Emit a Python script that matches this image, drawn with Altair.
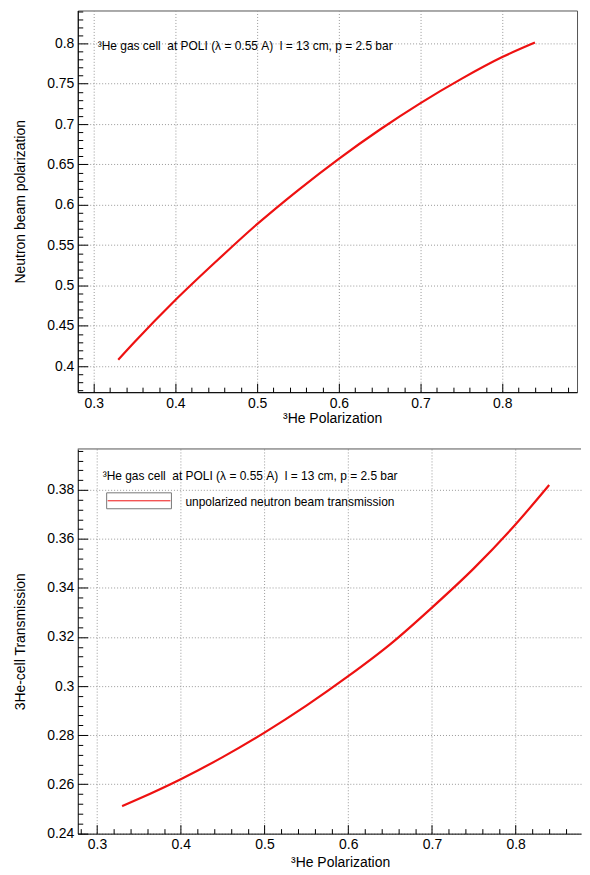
import altair as alt
import pandas as pd
import numpy as np

FONT = "Liberation Sans"

# ---- data ----
he_pol_top = [0.33, 0.35, 0.40, 0.45, 0.50, 0.55, 0.60, 0.65, 0.70, 0.75, 0.80, 0.84]
beam_pol = [0.408, 0.430, 0.482, 0.530, 0.576, 0.618, 0.657, 0.693, 0.726, 0.756, 0.783, 0.801]

he_pol_bot = [0.33, 0.35, 0.40, 0.45, 0.50, 0.55, 0.60, 0.65, 0.70, 0.75, 0.80, 0.84]
transmission = [0.251, 0.254, 0.262, 0.271, 0.281, 0.292, 0.304, 0.317, 0.332, 0.348, 0.366, 0.382]

x_major = [0.3, 0.4, 0.5, 0.6, 0.7, 0.8]
top_y_major = [0.4, 0.45, 0.5, 0.55, 0.6, 0.65, 0.7, 0.75, 0.8]
bot_y_major = [0.24, 0.26, 0.28, 0.3, 0.32, 0.34, 0.36, 0.38]

top_x_all = np.round(np.arange(0.30, 0.885, 0.02), 3).tolist()
top_y_all = np.round(np.arange(0.37, 0.8405, 0.01), 3).tolist()
bot_x_all = np.round(np.arange(0.28, 0.875, 0.02), 3).tolist()
bot_y_all = np.round(np.arange(0.24, 0.3965, 0.004), 3).tolist()

info_text = "\u00b3He gas cell\u00a0\u00a0at POLI (\u03bb = 0.55 A)\u00a0\u00a0l = 13 cm, p = 2.5 bar"
legend_text = "unpolarized neutron beam transmission"
x_title = "\u00b3He Polarization"
top_y_title = "Neutron beam polarization"
bot_y_title = "3He-cell Transmission"


def major_test(mult):
    return f"abs(datum.value*{mult} - round(datum.value*{mult})) < 1e-6"


def panel(xs, ys, xdom, ydom, W, H, x_all, y_major, y_all, y_mult, y_title,
          xtitle_x, xtitle_y, extra_layers, view_stroke=True):
    df = pd.DataFrame({"x": xs, "y": ys})
    base = alt.Chart(df)
    xs_ = alt.Scale(domain=xdom, nice=False, zero=False)
    ys_ = alt.Scale(domain=ydom, nice=False, zero=False)
    grid_kw = dict(grid=True, gridColor="#999999", gridDash=[1, 2], gridWidth=1)
    line = base.mark_line(color="#ee1111", strokeWidth=2.2, interpolate="monotone").encode(
        x=alt.X("x:Q", scale=xs_, axis=alt.Axis(
            values=x_major, ticks=False, format="~g", domainColor="black",
            labelFont=FONT, labelFontSize=14, labelColor="black", labelPadding=4,
            title=x_title, titleFont=FONT, titleFontSize=14, titleFontWeight="normal",
            titleColor="black", titleX=xtitle_x, titleY=xtitle_y, titleAlign="right",
            titleBaseline="top", **grid_kw)),
        y=alt.Y("y:Q", scale=ys_, axis=alt.Axis(
            values=y_major, ticks=False, format="~g", domainColor="black",
            labelFont=FONT, labelFontSize=14, labelColor="black", labelPadding=4,
            title=y_title, titleFont=FONT, titleFontSize=14, titleFontWeight="normal",
            titleColor="black", titleX=-57, titleBaseline="middle", **grid_kw)),
    )
    ticks = base.mark_line(strokeOpacity=0).encode(
        x=alt.X("x:Q", scale=xs_, axis=alt.Axis(
            orient="top", offset=-H, values=x_all, labels=False, domain=False,
            grid=False, title=None, tickColor="black", tickWidth=1,
            tickSize={"condition": {"test": major_test(10), "value": 9}, "value": 5})),
        y=alt.Y("y:Q", scale=ys_, axis=alt.Axis(
            orient="right", offset=-W, values=y_all, labels=False, domain=False,
            grid=False, title=None, tickColor="black", tickWidth=1,
            tickSize={"condition": {"test": major_test(y_mult), "value": 10}, "value": 5})),
    )
    props = dict(width=W, height=H)
    if not view_stroke:
        props["view"] = alt.ViewBackground(strokeOpacity=0)
    return alt.layer(line, ticks, *extra_layers).resolve_axis(
        x="independent", y="independent").properties(**props)


one = pd.DataFrame({"t": [info_text]})
top_ann = alt.Chart(one).mark_text(
    align="left", baseline="middle", font=FONT, fontSize=12, color="black"
).encode(x=alt.value(20), y=alt.value(36), text="t:N")

top = panel(he_pol_top, beam_pol, [0.2805, 0.8915], [0.3679, 0.8407], 501, 383,
            top_x_all, top_y_major, top_y_all, 20, top_y_title, 305, 19, [top_ann])

bot_ann = alt.Chart(one).mark_text(
    align="left", baseline="middle", font=FONT, fontSize=12, color="black"
).encode(x=alt.value(25), y=alt.value(27), text="t:N")
leg_df = pd.DataFrame({"t": [legend_text]})
leg_box = alt.Chart(leg_df).mark_rect(fill="white", stroke="#777777", strokeWidth=1).encode(
    x=alt.value(29), x2=alt.value(94), y=alt.value(44), y2=alt.value(60))
leg_line = alt.Chart(leg_df).mark_rule(color="#ee1111", strokeWidth=1).encode(
    x=alt.value(30), x2=alt.value(93), y=alt.value(52))
leg_txt = alt.Chart(leg_df).mark_text(
    align="left", baseline="middle", font=FONT, fontSize=12, color="black"
).encode(x=alt.value(108), y=alt.value(53), text="t:N")
frame_top = alt.Chart(leg_df).mark_rule(color="#555555", strokeWidth=1).encode(
    x=alt.value(0), x2=alt.value(505), y=alt.value(0))

bottom = panel(he_pol_bot, transmission, [0.277, 0.878], [0.2398, 0.3967], 505, 386,
               bot_x_all, bot_y_major, bot_y_all, 50, bot_y_title, 313, 22,
               [bot_ann, leg_box, leg_line, leg_txt, frame_top], view_stroke=False)

chart = alt.vconcat(top, bottom, spacing=22, padding={"left": 5, "top": 0, "right": 0, "bottom": 0}
                    ).configure_view(stroke="#555555", strokeWidth=1)

chart.save("out.html", embed_options={"renderer": "svg", "actions": False})
